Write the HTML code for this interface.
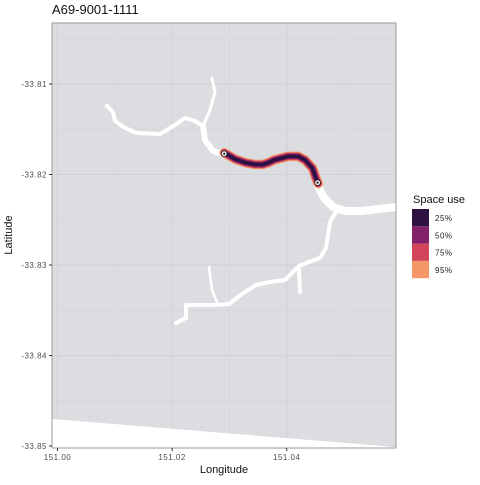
<!DOCTYPE html>
<html><head><meta charset="utf-8"><style>
body{margin:0;background:#fff;}
svg text{font-family:"Liberation Sans",sans-serif;}
</style></head><body>
<svg id="chart" width="480" height="480" viewBox="0 0 480 480" xmlns="http://www.w3.org/2000/svg">
<text x="52" y="14" font-size="13" fill="#111">A69-9001-1111</text>
<rect x="52" y="23" width="344" height="425" fill="#dcdde0"/>
<g id="grid"></g>
<g fill="none" stroke="#fff" stroke-linecap="round" stroke-linejoin="round">
<path d="M52,419 L396,447 L396,448 L52,448 Z" fill="#fff" stroke="none"/>
<path d="M107,106 L113,112 L115,121 L125,128 L137,133 L160,134 L175,125 L185,118 L195,121 L203,126" stroke-width="4"/>
<path d="M212,78 L215,92 L210,110 L203,126" stroke-width="3"/>
<path d="M203,126 L205,140 L213,151 L225,155" stroke-width="6"/>
<path d="M318,186 L324,198 L333,207 L345,211 L362,211 L396,207" stroke-width="8"/>
<path d="M336,212 L330,222 L326,248 L320,258 L309,262 L299,266 L293,272 L285,280 L270,282 L256,285 L242,294 L229,304 L214,305 L198,305 L186,305 L186,318 L176,323" stroke-width="4"/>
<path d="M209,267 L212,290 L218,305" stroke-width="2.5"/>
<path d="M299,270 L300,292" stroke-width="4"/>
</g>
<g id="track"></g>
<rect x="52" y="23" width="344" height="425" fill="none" stroke="#999" stroke-width="1"/>
<g id="axes"></g>
<text x="224" y="473" font-size="11" text-anchor="middle" fill="#111">Longitude</text>
<text x="12" y="235" font-size="11" text-anchor="middle" fill="#111" transform="rotate(-90 12 235)">Latitude</text>
<g id="legend">
<text x="413" y="203" font-size="11" fill="#111">Space use</text>
</g>
</svg>
<script>
const xTicks=[151.00,151.02,151.04];
const xMinor=[151.01,151.03,151.05];
const yTicks=[-33.81,-33.82,-33.83,-33.84,-33.85];
const yMinor=[-33.805,-33.815,-33.825,-33.835,-33.845];
const levels=["25%","50%","75%","95%"];
const levelColors=["#2d1140","#822169","#d2445a","#f4986a"];
const trackLon=[151.0291,151.0310,151.0328,151.0345,151.0358,151.0368,151.0378,151.0402,151.0420,151.0432,151.0445,151.0451,151.0455];
const trackLat=[-33.8176,-33.8183,-33.8187,-33.8189,-33.8189,-33.8187,-33.8184,-33.8180,-33.8180,-33.8184,-33.8193,-33.8204,-33.8210];
const stationLon=[151.0291,151.0454];
const stationLat=[-33.8177,-33.8209];
const X=v=>57.5+(v-151.00)/0.02*114.6;
const Y=v=>84+(-33.81-v)/0.01*90.5;
const NS="http://www.w3.org/2000/svg";
function mk(t,a,p){const e=document.createElementNS(NS,t);for(const k in a)e.setAttribute(k,a[k]);p.appendChild(e);return e;}
const grid=document.getElementById('grid'),axes=document.getElementById('axes');
xMinor.forEach(v=>{const l=mk('line',{x1:X(v),x2:X(v),y1:23,y2:448,stroke:'#d0d1d4','stroke-width':0.5},grid);});
yMinor.forEach(v=>{const l=mk('line',{x1:52,x2:396,y1:Y(v),y2:Y(v),stroke:'#d0d1d4','stroke-width':0.5},grid);});
xTicks.forEach(v=>{const l=mk('line',{x1:X(v),x2:X(v),y1:23,y2:448,stroke:'#d0d1d4','stroke-width':1},grid);
const t=mk('line',{x1:X(v),x2:X(v),y1:448,y2:451,stroke:'#333'},axes);
const tx=mk('text',{x:X(v),y:460,'font-size':8,'text-anchor':'middle',fill:'#4d4d4d','letter-spacing':'0.5'},axes);tx.textContent=v.toFixed(2);});
yTicks.forEach(v=>{const l=mk('line',{x1:52,x2:396,y1:Y(v),y2:Y(v),stroke:'#d0d1d4','stroke-width':1},grid);
const t=mk('line',{x1:49,x2:52,y1:Y(v),y2:Y(v),stroke:'#333'},axes);
const tx=mk('text',{x:47,y:Y(v)+3,'font-size':8,'text-anchor':'end',fill:'#4d4d4d','letter-spacing':'0.5'},axes);tx.textContent=v.toFixed(2);});
const track=document.getElementById('track');
const d=trackLon.map((v,i)=>(i?'L':'M')+X(v).toFixed(1)+','+Y(trackLat[i]).toFixed(1)).join(' ');
const widths=[3.5,5.5,7.5,9.5];
for(let i=3;i>=0;i--){const p=mk('path',{d:d,fill:'none',stroke:levelColors[i],'stroke-width':widths[i],'stroke-linecap':'round','stroke-linejoin':'round'},track);}
stationLon.forEach((v,i)=>{const c=mk('circle',{cx:X(v),cy:Y(stationLat[i]),r:2.8,fill:'#fff',stroke:'#222','stroke-width':0.8},track);
const c2=mk('circle',{cx:X(v),cy:Y(stationLat[i]),r:1.1,fill:'#111'},track);});
const lg=document.getElementById('legend');
levels.forEach((lab,i)=>{const r=mk('rect',{x:412,y:209+i*17.3,width:17,height:17.3,fill:levelColors[i]},lg);
const t=mk('text',{x:435,y:221+i*17.3,'font-size':8,fill:'#222','letter-spacing':'0.5'},lg);t.textContent=lab;});
</script>
</body></html>
